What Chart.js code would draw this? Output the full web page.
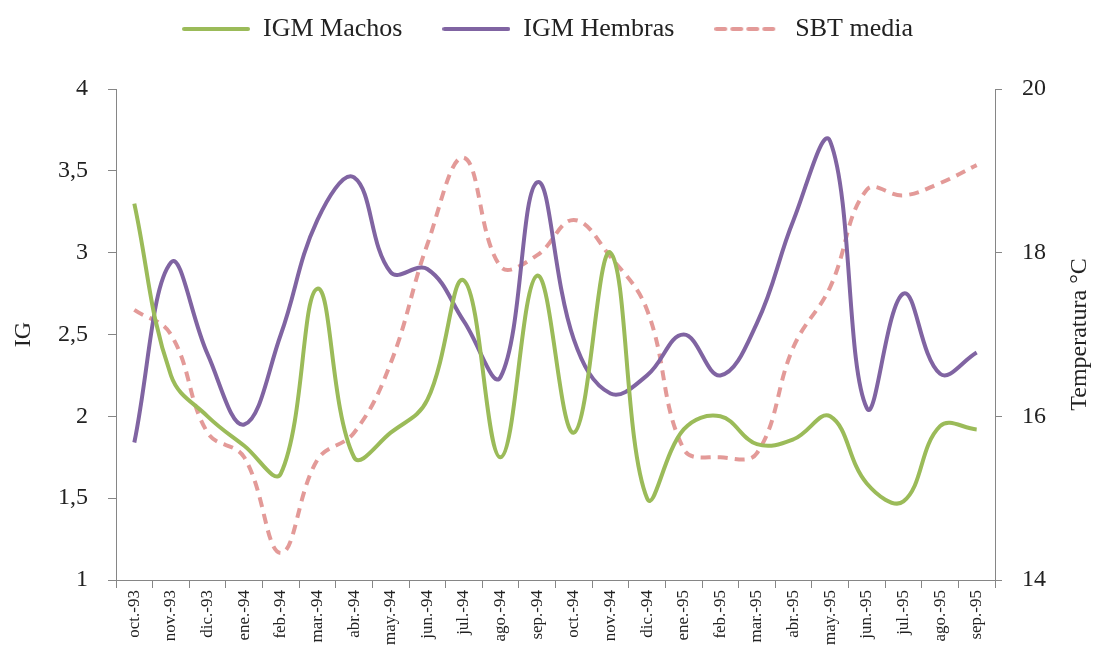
<!DOCTYPE html>
<html>
<head>
<meta charset="utf-8">
<script src="https://cdn.jsdelivr.net/npm/chart.js@4/dist/chart.umd.min.js"></script>
<style>
  html, body { margin: 0; padding: 0; background: #fff; }
  #wrap { width: 1095px; height: 656px; }
</style>
</head>
<body>
<div id="wrap"><canvas id="igChart"></canvas></div>
<script>
const months = ['oct.-93', 'nov.-93', 'dic.-93', 'ene.-94', 'feb.-94', 'mar.-94', 'abr.-94', 'may.-94',
    'jun.-94', 'jul.-94', 'ago.-94', 'sep.-94', 'oct.-94', 'nov.-94', 'dic.-94', 'ene.-95',
    'feb.-95', 'mar.-95', 'abr.-95', 'may.-95', 'jun.-95', 'jul.-95', 'ago.-95', 'sep.-95'];

const igmMachos = [3.30, 2.25, 2.00, 1.82, 1.65, 2.78, 1.75, 1.90, 2.10, 2.83, 1.75, 2.86,
    1.90, 3.00, 1.50, 1.92, 2.00, 1.83, 1.86, 2.00, 1.59, 1.48, 1.94, 1.92];

const igmHembras = [1.84, 2.94, 2.38, 1.95, 2.50, 3.20, 3.46, 2.88, 2.90, 2.58, 2.24, 3.43,
    2.47, 2.14, 2.25, 2.50, 2.25, 2.57, 3.20, 3.68, 2.05, 2.75, 2.26, 2.39];

const sbtMedia = [17.30, 17.00, 15.80, 15.50, 14.33, 15.47, 15.80, 16.65, 18.10, 19.16, 17.83, 17.97,
    18.40, 17.95, 17.30, 15.60, 15.50, 15.55, 16.85, 17.58, 18.77, 18.70, 18.85, 19.07];

const igTicks = [1, 1.5, 2, 2.5, 3, 3.5, 4];
const tempTicks = [14, 16, 18, 20];

const serif = "'Liberation Serif', 'DejaVu Serif', serif";
const axisGray = '#868686';
const green = '#9bbb59';
const purple = '#8064a2';
const pink = '#e39a98';
const sbtDash = [10, 7];

// small line swatch used as the legend marker (keeps the dash pattern)
function swatch(color, dash) {
    const c = document.createElement('canvas');
    c.width = 68;
    c.height = 6;
    const g = c.getContext('2d');
    g.strokeStyle = color;
    g.lineWidth = 4;
    g.lineCap = 'round';
    g.setLineDash(dash);
    g.beginPath();
    g.moveTo(2, 3);
    g.lineTo(66, 3);
    g.stroke();
    return c;
}

// right-hand title reads bottom-to-top, so it is drawn here instead of via scale.title
const rightTitle = {
    id: 'rightTitle',
    afterDraw(chart) {
        const ctx = chart.ctx;
        const area = chart.chartArea;
        ctx.save();
        ctx.translate(1080, (area.top + area.bottom) / 2);
        ctx.rotate(-Math.PI / 2);
        ctx.font = '24px ' + serif;
        ctx.fillStyle = '#222';
        ctx.textAlign = 'center';
        ctx.textBaseline = 'middle';
        ctx.fillText('Temperatura °C', 0, 0);
        ctx.restore();
    }
};

// extra room below the legend row before the plot starts
const legendGap = {
    id: 'legendGap',
    afterInit(chart) {
        const fitLegend = chart.legend.fit;
        chart.legend.fit = function () {
            fitLegend.call(this);
            this.height += 37;
        };
    }
};

const ctx = document.getElementById('igChart').getContext('2d');

new Chart(ctx, {
    type: 'line',
    data: {
        labels: months,
        datasets: [
            {
                label: 'IGM Machos',
                data: igmMachos,
                borderColor: green,
                borderWidth: 4,
                tension: 0.4,
                pointRadius: 0,
                pointStyle: swatch(green, []),
                fill: false,
                yAxisID: 'y'
            },
            {
                label: 'IGM Hembras',
                data: igmHembras,
                borderColor: purple,
                borderWidth: 4,
                tension: 0.4,
                pointRadius: 0,
                pointStyle: swatch(purple, []),
                fill: false,
                yAxisID: 'y'
            },
            {
                label: 'SBT media',
                data: sbtMedia,
                borderColor: pink,
                borderWidth: 4,
                borderDash: sbtDash,
                tension: 0.4,
                pointRadius: 0,
                pointStyle: swatch(pink, [9, 7]),
                fill: false,
                yAxisID: 'y1'
            }
        ]
    },
    options: {
        responsive: true,
        maintainAspectRatio: false,
        animation: false,
        layout: { padding: { top: -24, left: 0, right: 0, bottom: 0 } },
        scales: {
            x: {
                offset: true,
                grid: { drawOnChartArea: false, tickLength: 8, color: axisGray, offset: true },
                border: { color: axisGray, width: 1 },
                ticks: {
                    minRotation: 90,
                    maxRotation: 90,
                    autoSkip: false,
                    padding: 2,
                    color: '#222',
                    font: { family: serif, size: 17 }
                },
                afterFit(axis) { axis.height = 76; }
            },
            y: {
                position: 'left',
                min: 1,
                max: 4,
                afterBuildTicks(axis) { axis.ticks = igTicks.map(v => ({ value: v })); },
                grid: { drawOnChartArea: false, tickLength: 8, color: axisGray },
                border: { color: axisGray, width: 1 },
                ticks: {
                    padding: 20,
                    color: '#222',
                    font: { family: serif, size: 24 },
                    callback: v => String(v).replace('.', ',')
                },
                title: {
                    display: true,
                    text: 'IG',
                    color: '#222',
                    font: { family: serif, size: 24 },
                    padding: { top: 9, bottom: 0 }
                },
                afterFit(axis) { axis.width = 116; }
            },
            y1: {
                position: 'right',
                min: 14,
                max: 20,
                afterBuildTicks(axis) { axis.ticks = tempTicks.map(v => ({ value: v })); },
                grid: { drawOnChartArea: false, tickLength: 7, color: axisGray },
                border: { color: axisGray, width: 1 },
                ticks: {
                    padding: 20,
                    color: '#222',
                    font: { family: serif, size: 24 }
                },
                afterFit(axis) { axis.width = 100; }
            }
        },
        plugins: {
            legend: {
                position: 'top',
                labels: {
                    usePointStyle: true,
                    pointStyleWidth: 68,
                    boxHeight: 24,
                    padding: 40,
                    color: '#222',
                    font: { family: serif, size: 26 }
                }
            },
            tooltip: { enabled: false }
        }
    },
    plugins: [rightTitle, legendGap]
});
</script>
</body>
</html>
